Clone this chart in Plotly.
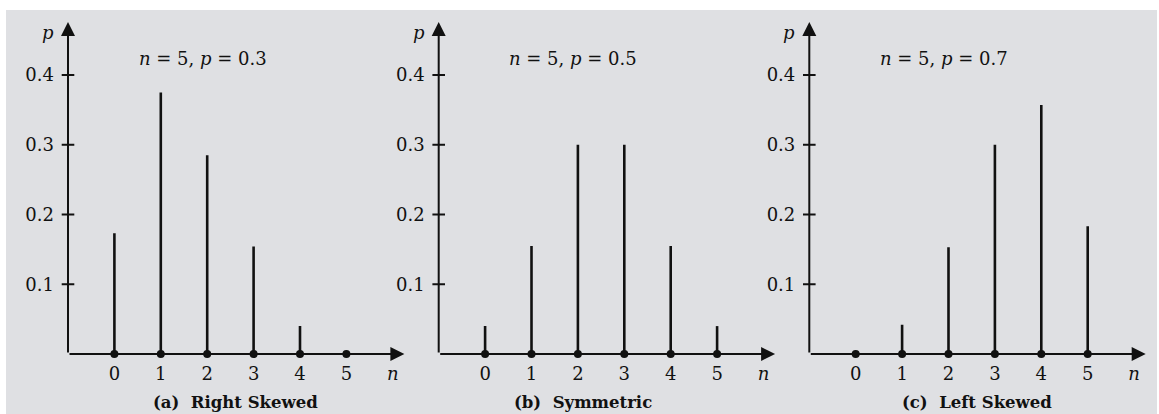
import plotly.graph_objects as go

# Binomial probabilities P(k) for n = 5, k = 0..5
k_values = [0, 1, 2, 3, 4, 5]
p_right_skewed = [0.173, 0.375, 0.285, 0.154, 0.040, 0.0]   # p = 0.3
p_symmetric = [0.040, 0.155, 0.300, 0.300, 0.155, 0.040]    # p = 0.5
p_left_skewed = [0.0, 0.042, 0.153, 0.300, 0.357, 0.183]    # p = 0.7

panel_series = [p_right_skewed, p_symmetric, p_left_skewed]
panel_params = ["<i>n</i> = 5, <i>p</i> = 0.3",
                "<i>n</i> = 5, <i>p</i> = 0.5",
                "<i>n</i> = 5, <i>p</i> = 0.7"]
panel_captions = ["<b>(a)  Right Skewed</b>",
                  "<b>(b)  Symmetric</b>",
                  "<b>(c)  Left Skewed</b>"]

y_tick_vals = [0.1, 0.2, 0.3, 0.4]
y_tick_text = ["0.1", "0.2", "0.3", "0.4"]
x_tick_vals = [0, 1, 2, 3, 4, 5, 6]
x_tick_text = ["0", "1", "2", "3", "4", "5", "<i>n</i>"]

W, H = 1159, 414
FONT = "DejaVu Serif"
INK = "#111111"

X_MIN, X_MAX = -1.0, 6.25
Y_MIN, Y_MAX = 0.0, 0.476
UNIT_PX = 46.4
panel_left_px = [68, 438.7, 809.3]
caption_x = [2.62, 2.11, 2.62]

fig = go.Figure()

# light grey card behind the three panels
fig.add_shape(type="rect", xref="paper", yref="paper",
              x0=6 / W, x1=1157 / W, y0=0, y1=(H - 10) / H,
              fillcolor="#dfe0e3", line_width=0, layer="below")

y_dom = [(H - 354) / H, (H - 22) / H]

for i, probs in enumerate(panel_series):
    ax_id = "" if i == 0 else str(i + 1)
    xref, yref = "x" + ax_id, "y" + ax_id
    left = panel_left_px[i]
    right = left + (X_MAX - X_MIN) * UNIT_PX

    # stems
    sx, sy = [], []
    for k, v in zip(k_values, probs):
        sx += [k, k, None]
        sy += [0, v, None]
    fig.add_trace(go.Scatter(x=sx, y=sy, mode="lines",
                             line=dict(color=INK, width=2.6),
                             xaxis=xref, yaxis=yref, hoverinfo="skip",
                             showlegend=False, cliponaxis=False))
    # dots on the baseline
    fig.add_trace(go.Scatter(x=k_values, y=[0] * len(k_values), mode="markers",
                             marker=dict(color=INK, size=8),
                             xaxis=xref, yaxis=yref, showlegend=False,
                             cliponaxis=False))
    # crossing tick marks on the vertical axis
    fig.add_trace(go.Scatter(x=[X_MIN] * len(y_tick_vals), y=y_tick_vals,
                             mode="markers",
                             marker=dict(symbol="line-ew", size=9,
                                         line=dict(color=INK, width=2)),
                             xaxis=xref, yaxis=yref, showlegend=False,
                             cliponaxis=False))

    layout_x = "xaxis" + ax_id
    layout_y = "yaxis" + ax_id
    fig.update_layout({
        layout_x: dict(domain=[left / W, right / W], range=[X_MIN, X_MAX],
                       anchor=yref, showgrid=False, zeroline=False,
                       showline=False, ticks="", tickvals=x_tick_vals,
                       ticktext=x_tick_text, ticklabelstandoff=7,
                       tickfont=dict(family=FONT, size=18, color=INK)),
        layout_y: dict(domain=y_dom, range=[Y_MIN, Y_MAX], anchor=xref,
                       showgrid=False, zeroline=False, showline=False,
                       ticks="", tickvals=y_tick_vals, ticktext=y_tick_text,
                       ticklabelstandoff=13,
                       tickfont=dict(family=FONT, size=18, color=INK)),
    })

    # axes with arrowheads
    fig.add_annotation(x=X_MAX, y=0, ax=X_MIN, ay=0, xref=xref, yref=yref,
                       axref=xref, ayref=yref, text="", showarrow=True,
                       arrowhead=2, arrowsize=1.4, arrowwidth=2,
                       arrowcolor=INK)
    fig.add_annotation(x=X_MIN, y=Y_MAX, ax=X_MIN, ay=0, xref=xref, yref=yref,
                       axref=xref, ayref=yref, text="", showarrow=True,
                       arrowhead=2, arrowsize=1.4, arrowwidth=2,
                       arrowcolor=INK)
    # vertical axis label, placed just left of the arrow tip
    fig.add_annotation(x=(left - 20) / W, y=(H - 32) / H, xref="paper",
                       yref="paper", xanchor="center", yanchor="middle",
                       text="<i>p</i>", showarrow=False,
                       font=dict(family=FONT, size=18, color=INK))
    # distribution parameters
    fig.add_annotation(x=1.9, y=0.423, xref=xref, yref=yref,
                       text=panel_params[i], showarrow=False,
                       font=dict(family=FONT, size=18, color=INK))
    # panel caption
    fig.add_annotation(x=caption_x[i], y=(H - 402) / H, xref=xref,
                       yref="paper", text=panel_captions[i],
                       showarrow=False, yanchor="middle",
                       font=dict(family=FONT, size=16.5, color=INK))

fig.update_layout(width=W, height=H, margin=dict(l=0, r=0, t=0, b=0),
                  paper_bgcolor="white", plot_bgcolor="rgba(0,0,0,0)",
                  showlegend=False)

fig.write_html("out.html")
